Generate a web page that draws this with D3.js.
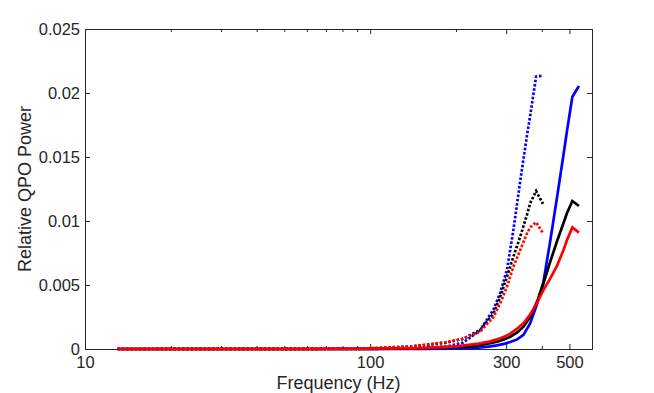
<!DOCTYPE html>
<html lang="en">
<head>
<meta charset="UTF-8">
<title>Relative QPO Power</title>
<script src="https://d3js.org/d3.v7.min.js"></script>
<style>
  html, body { margin: 0; padding: 0; background: #fff; }
  svg { display: block; }
  text { font-family: "Liberation Sans", Arial, Helvetica, sans-serif; fill: #262626; }
</style>
</head>
<body>
<svg id="chart"></svg>
<script>
// frequencies (Hz) of the solid curves and of the dotted curves
var solidFreq  = [13, 60, 100, 150, 200, 218, 240, 264, 278, 295, 310, 328, 345, 364, 385, 405, 428, 452, 476, 490, 512, 540];
var blueSolid  = [0, 0, 0, 0.00001, 0.00003, 0.00005, 0.0001, 0.0002, 0.00028, 0.0004, 0.00055, 0.00075, 0.0011, 0.002, 0.0035, 0.0052, 0.0084, 0.0118, 0.0151, 0.017, 0.0197, 0.02055];
var blackSolid = [0, 0, 0.00001, 0.00005, 0.00012, 0.00018, 0.00028, 0.00045, 0.00057, 0.00075, 0.00096, 0.0013, 0.00174, 0.0025, 0.0037, 0.0051, 0.0068, 0.0084, 0.0098, 0.0106, 0.01156, 0.01117];
var redSolid   = [0, 0, 0.00002, 0.00007, 0.0002, 0.0003, 0.00042, 0.0006, 0.00075, 0.00095, 0.0012, 0.0016, 0.002, 0.0027, 0.0036, 0.0046, 0.0055, 0.0065, 0.0077, 0.0085, 0.0095, 0.00909];

var dotFreq  = [13, 60, 100, 140, 186, 212, 243, 271, 286, 302, 318, 336, 355, 364, 382, 404];
var blueDot  = [0, 0, 0.00001, 0.00005, 0.0002, 0.0005, 0.00146, 0.0031, 0.0044, 0.0062, 0.0093, 0.0131, 0.0167, 0.0182, 0.02128, 0.02136];
var blackDot = [0, 0.00001, 0.00005, 0.0002, 0.0005, 0.0008, 0.00148, 0.00279, 0.00409, 0.00565, 0.00721, 0.00877, 0.0105, 0.01138, 0.01234, 0.01133];
var redDot   = [0, 0.00001, 0.00005, 0.0002, 0.00055, 0.0008, 0.00135, 0.00252, 0.00357, 0.00487, 0.00643, 0.00773, 0.00904, 0.0095, 0.0099, 0.00904];

var xTicks = [10, 100, 300, 500];
var xMinorTicks = [20, 30, 40, 50, 60, 70, 80, 90, 200, 400];
var yTicks = [0, 0.005, 0.01, 0.015, 0.02, 0.025];
var yTickLabels = ["0", "0.005", "0.01", "0.015", "0.02", "0.025"];

(function() {
    var width = 654, height = 393;
    var left = 85, right = 592, top = 29, bottom = 349;

    var svg = d3.select("#chart").attr("width", width).attr("height", height);

    var x = d3.scaleLog().domain([10, 600]).range([left, right]);
    var y = d3.scaleLinear().domain([0, 0.025]).range([bottom, top]);

    // axes, ticks inward like matlab
    function styleAxis(g) {
        g.select(".domain").remove();
        g.selectAll("line").attr("stroke", "#262626").attr("stroke-width", 1);
        g.selectAll("text").attr("font-size", "16.5px").attr("fill", "#262626")
            .style("font-family", "'Liberation Sans', Arial, Helvetica, sans-serif");
    }

    svg.append("g").attr("transform", "translate(0," + bottom + ")")
        .call(d3.axisBottom(x).tickValues(xTicks).tickFormat(d3.format("d")).tickSize(-5).tickPadding(7))
        .call(styleAxis);
    svg.append("g").attr("transform", "translate(0," + bottom + ")")
        .call(d3.axisBottom(x).tickValues(xMinorTicks).tickFormat("").tickSize(-3))
        .call(styleAxis);
    svg.append("g").attr("transform", "translate(0," + top + ")")
        .call(d3.axisTop(x).tickValues(xTicks).tickFormat("").tickSize(-5))
        .call(styleAxis);
    svg.append("g").attr("transform", "translate(0," + top + ")")
        .call(d3.axisTop(x).tickValues(xMinorTicks).tickFormat("").tickSize(-3))
        .call(styleAxis);

    svg.append("g").attr("transform", "translate(" + left + ",0)")
        .call(d3.axisLeft(y).tickValues(yTicks).tickFormat(function(d, i) { return yTickLabels[i]; }).tickSize(-5).tickPadding(5))
        .call(styleAxis);
    svg.append("g").attr("transform", "translate(" + right + ",0)")
        .call(d3.axisRight(y).tickValues(yTicks).tickFormat("").tickSize(-5))
        .call(styleAxis);

    // box
    svg.append("rect")
        .attr("x", left + 0.5).attr("y", top + 0.5)
        .attr("width", right - left).attr("height", bottom - top)
        .attr("fill", "none").attr("stroke", "#262626").attr("stroke-width", 1);

    var line = d3.line()
        .x(function(d) { return x(d[0]); })
        .y(function(d) { return y(d[1]); });

    var series = [
        { f: solidFreq, v: blueSolid,  color: "#0000ff", dash: null },
        { f: dotFreq,   v: blueDot,    color: "#0000ff", dash: "2.5,1.8" },
        { f: solidFreq, v: blackSolid, color: "#000000", dash: null },
        { f: dotFreq,   v: blackDot,   color: "#000000", dash: "2.5,1.8" },
        { f: solidFreq, v: redSolid,   color: "#ff0000", dash: null },
        { f: dotFreq,   v: redDot,     color: "#ff0000", dash: "2.5,1.8" }
    ];

    svg.append("g").selectAll("path")
        .data(series)
        .enter()
        .append("path")
        .attr("d", function(s) { return line(s.f.map(function(f, i) { return [f, s.v[i]]; })); })
        .attr("fill", "none")
        .attr("stroke", function(s) { return s.color; })
        .attr("stroke-width", 2.7)
        .attr("stroke-dasharray", function(s) { return s.dash; });

    // axis labels
    svg.append("text")
        .attr("x", (left + right) / 2).attr("y", 389)
        .attr("text-anchor", "middle").attr("font-size", "18px")
        .text("Frequency (Hz)");

    svg.append("text")
        .attr("transform", "translate(31," + ((top + bottom) / 2) + ")rotate(-90)")
        .attr("text-anchor", "middle").attr("font-size", "18px")
        .text("Relative QPO Power");
})();
</script>
</body>
</html>
